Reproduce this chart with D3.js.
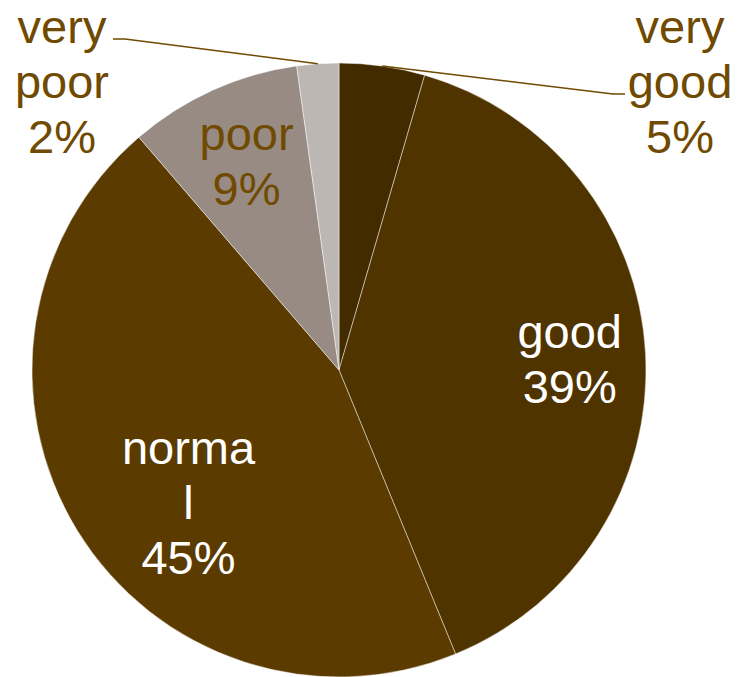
<!DOCTYPE html>
<html>
<head>
<meta charset="utf-8">
<script src="https://cdn.jsdelivr.net/npm/d3@7"></script>
<style>
  html, body { margin: 0; padding: 0; background: #fff; }
  svg { display: block; font-family: "Liberation Sans", Arial, sans-serif; }
</style>
</head>
<body>
<svg id="chart" width="737" height="677"></svg>
<script>
// Data (share of answers, %)
const categories = ["very good", "good", "normal", "poor", "very poor"];
const shares     = [4.5, 39.3, 44.9, 9.1, 2.2];
// how Excel wrapped the label text
const labelLines = [["very", "good"], ["good"], ["norma", "l"], ["poor"], ["very", "poor"]];

const colors     = ["#432b00", "#4f3400", "#5b3b00", "#978b83", "#bdb7b3"];
const textColors = ["#6f4a00", "#ffffff", "#ffffff", "#6f4a00", "#6f4a00"];

const width = 737, height = 677;
const cx = 339, cy = 370, R = 307;
const fontSize = 47, lineH = 55;

const svg = d3.select("#chart");
const g = svg.append("g").attr("transform", `translate(${cx},${cy})`);

const data = categories.map((c, i) => ({ cat: c, value: shares[i], i }));
const pie = d3.pie().value(d => d.value).sort(null);
const arcs = pie(data);
const arc = d3.arc().innerRadius(0).outerRadius(R);

// slices
g.selectAll("path.slice")
  .data(arcs)
  .join("path")
    .attr("class", "slice")
    .attr("d", arc)
    .attr("fill", d => colors[d.data.i])
    .attr("stroke", "rgba(255,255,255,0.45)")
    .attr("stroke-width", 1);

const fmt = v => Math.round(v) + "%";
const polar = (r, a) => [r * Math.sin(a), -r * Math.cos(a)];
const mid = d => (d.startAngle + d.endAngle) / 2;

// label placement (inside: radius + angle tweak; outside: leader lines)
const inside = {
  "good":   { r: 231, da: 0.2 },
  "normal": { r: 200, da: -9.7 },
  "poor":   { r: 229, da: 0.5 }
};
const outside = {
  "very good": { x: 680, elbow: [613, 94], end: [625, 94] },
  "very poor": { x: 62,  elbow: [125, 39], end: [113, 39] }
};

arcs.forEach(d => {
  const lines = labelLines[d.data.i].concat([fmt(d.data.value)]);
  const col = textColors[d.data.i];
  let x, yTop;
  if (inside[d.data.cat]) {
    const o = inside[d.data.cat];
    const [px, py] = polar(o.r, mid(d) + o.da * Math.PI / 180);
    x = cx + px;
    // center text block vertically around point
    yTop = cy + py - (lines.length - 1) * lineH / 2 + 17;
  } else {
    const o = outside[d.data.cat];
    x = o.x;
    yTop = 43;
    const [ax, ay] = polar(R, mid(d));
    svg.append("polyline")
      .attr("points", [[cx + ax, cy + ay], o.elbow, o.end].map(p => p.join(",")).join(" "))
      .attr("fill", "none")
      .attr("stroke", col)
      .attr("stroke-width", 1.5);
  }
  const t = svg.append("text")
    .attr("text-anchor", "middle")
    .attr("font-size", fontSize)
    .attr("fill", col);
  lines.forEach((ln, k) => {
    t.append("tspan")
      .attr("x", x)
      .attr("y", yTop + k * lineH)
      .text(ln);
  });
});
</script>
</body>
</html>
